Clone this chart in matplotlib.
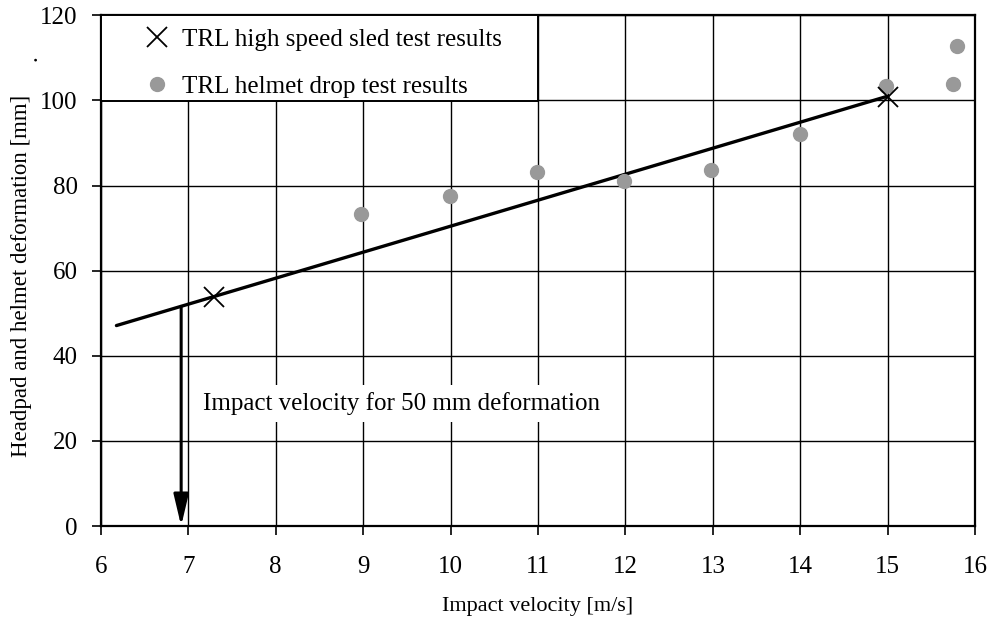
import matplotlib
matplotlib.use("Agg")
import matplotlib.pyplot as plt
from matplotlib.patches import Rectangle

plt.rcParams['font.family'] = ['Liberation Serif', 'DejaVu Serif']

# TRL high speed sled test results
sled_v = [7.30, 15.0]
sled_d = [53.9, 100.9]

# TRL helmet drop test results
drop_v = [8.98, 9.99, 10.99, 11.98, 12.98, 13.99, 14.98, 15.75, 15.79]
drop_d = [73.3, 77.5, 83.1, 81.1, 83.6, 92.1, 103.5, 103.8, 112.8]

# fitted line through sled results
fit_v = [6.18, 15.0]
fit_d = [47.1, 101.0]

# velocity for 50 mm deformation (arrow)
arrow_v = 6.92
arrow_top = 51.6

x_ticks = list(range(6, 17))
y_ticks = list(range(0, 121, 20))

fig = plt.figure(figsize=(9.95, 6.26), dpi=100)
ax = fig.add_axes([0.1012, 0.1597, 0.8790, 0.8159])

fs = 18

ax.set_xlim(6, 16)
ax.set_ylim(0, 120)
ax.set_xticks(x_ticks)
ax.set_yticks(y_ticks)
ax.grid(True, color='black', linewidth=1.0)
ax.set_axisbelow(True)
for s in ax.spines.values():
    s.set_linewidth(1.6)
ax.tick_params(direction='out', length=6.5, width=1.2, labelsize=fs)
ax.tick_params(axis='y', pad=10)
ax.tick_params(axis='x', pad=15)

ax.plot(fit_v, fit_d, color='black', linewidth=2.4, solid_capstyle='round', zorder=3)
ax.plot(drop_v, drop_d, linestyle='none', marker='o', markersize=10,
        color='#999999', label='TRL helmet drop test results', zorder=4)
ax.plot(sled_v, sled_d, linestyle='none', marker='x', markersize=14,
        markeredgewidth=1.3, color='black', label='TRL high speed sled test results', zorder=5)

ax.annotate('', xy=(arrow_v, 0), xytext=(arrow_v, arrow_top),
            arrowprops=dict(arrowstyle='-|>,head_length=1.9,head_width=0.45',
                            color='black', lw=2.2, shrinkA=0, shrinkB=0),
            zorder=3)

ax.text(7.17, 28.8, 'Impact velocity for 50 mm deformation', fontsize=fs,
        va='center', ha='left', zorder=6,
        bbox=dict(facecolor='white', edgecolor='none', pad=5))

# legend box drawn separately so its padding can match the original
box = Rectangle((0, 0.8325), 0.5, 0.1675, transform=ax.transAxes,
                facecolor='white', edgecolor='black', linewidth=1.4,
                zorder=9, clip_on=False)
ax.add_patch(box)

handles, labels = ax.get_legend_handles_labels()
leg = ax.legend(handles[::-1], labels[::-1], loc='upper left', fontsize=fs,
                bbox_to_anchor=(0.0354, 0.975), frameon=False,
                borderaxespad=0, borderpad=0, handletextpad=0.0,
                labelspacing=1.0, handlelength=2.0)
leg.set_zorder(10)

ax.set_xlabel('Impact velocity [m/s]', fontsize=16, labelpad=14)
ax.set_ylabel('Headpad and helmet deformation [mm]', fontsize=16.5)
ax.yaxis.set_label_coords(-0.079, 0.49)
fig.text(0.031, 0.907, '.', fontsize=16.5, rotation=90, ha='center', va='center')

fig.savefig('out.png', dpi=100)
